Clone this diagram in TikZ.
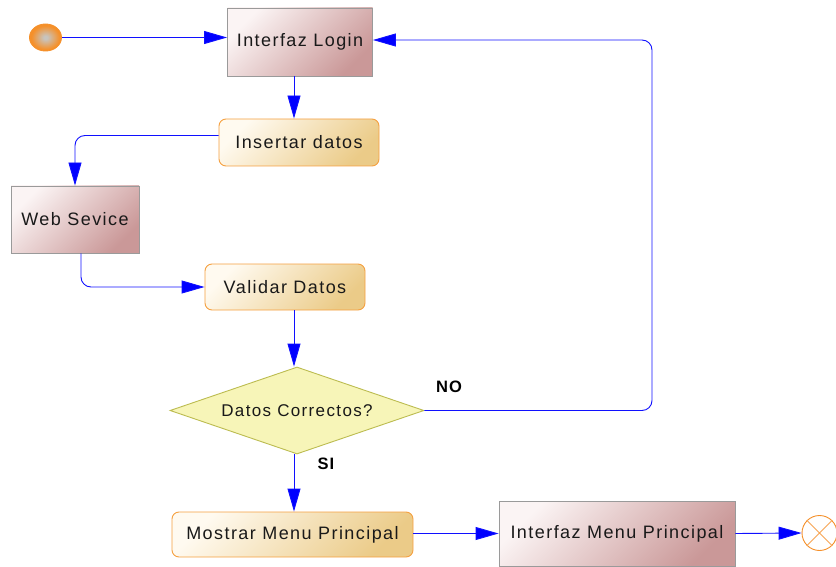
\documentclass[tikz,border=0pt]{standalone}
\usepackage{fontspec}
\setmainfont{Liberation Sans}
\newfontfamily\lblfont[LetterSpace=8]{Liberation Sans}
\newfontfamily\diafont[LetterSpace=8]{Liberation Sans}
\newfontfamily\guardfont[LetterSpace=6]{Liberation Sans}
\usetikzlibrary{arrows.meta,shapes.geometric}
\definecolor{pinkA}{HTML}{FBF4F4}
\definecolor{pinkB}{HTML}{CA9898}
\definecolor{pinkEdge}{HTML}{9A9A9A}
\definecolor{ochreA}{HTML}{FFFAF0}
\definecolor{ochreB}{HTML}{EBCB88}
\definecolor{ochreEdge}{HTML}{F5A040}
\definecolor{diaFill}{HTML}{F7F5B8}
\definecolor{diaEdge}{HTML}{BCBC50}
\definecolor{dotOrange}{HTML}{F5902A}
\definecolor{dotGrey}{HTML}{C8C4BE}
\definecolor{lineBlue}{HTML}{1010FF}
\pgfdeclareradialshading{startdot}{\pgfpoint{0bp}{0bp}}{%
  color(0bp)=(dotGrey); color(3bp)=(dotGrey); color(22bp)=(dotOrange); color(50bp)=(dotOrange)}
\tikzset{
  screen/.style={draw=pinkEdge, line width=0.9pt, top color=pinkA, bottom color=pinkB,
    shading angle=45, font=\lblfont\fontsize{18}{20}\selectfont, text=black!90, inner sep=0pt},
  action/.style={draw=ochreEdge, line width=0.9pt, rounded corners=7pt, top color=ochreA,
    bottom color=ochreB, shading angle=45, font=\lblfont\fontsize{18}{20}\selectfont,
    text=black!90, inner sep=0pt},
  decision/.style={diamond, draw=diaEdge, line width=0.9pt, fill=diaFill, inner sep=0pt,
    aspect=2.9, font=\diafont\fontsize{17}{19}\selectfont, text=black!90},
  conn/.style={draw=lineBlue, line width=0.9pt, rounded corners=10pt,
    -{Triangle[length=23pt,width=13pt,fill=blue]}},
  guard/.style={font=\guardfont\bfseries\fontsize{16.5}{18}\selectfont, text=black}
}
\begin{document}
\begin{tikzpicture}[x=1pt,y=-1pt]
\useasboundingbox (0,0) rectangle (836,567);

% start and end markers
\node[ellipse, draw=dotOrange, line width=0.9pt, shading=startdot,
  minimum width=32pt, minimum height=27pt, inner sep=0pt] (start) at (45.5,37.5) {};
\node[circle, draw=dotOrange, line width=0.9pt, fill=white, minimum size=35pt, inner sep=0pt]
  (fin) at (819.5,533) {};
\draw[dotOrange!80, line width=0.9pt] (fin.north east) -- (fin.south west)
  (fin.north west) -- (fin.south east);

% activities
\node[screen, minimum width=145pt, minimum height=68pt] (login) at (300,42) {Interfaz Login};
\node[action, minimum width=160pt, minimum height=47pt] (ins) at (299,142.5) {Insertar datos};
\node[screen, minimum width=128pt, minimum height=67pt] (web) at (75,219.5) {Web Sevice};
\node[action, minimum width=160pt, minimum height=46pt] (val) at (285,287) {Validar Datos};
\node[decision, minimum width=254pt, minimum height=87pt] (dia) at (297,410.5) {Datos Correctos?};
\node[action, minimum width=241pt, minimum height=45pt] (mos) at (292.5,534.5) {Mostrar Menu Principal};
\node[screen, minimum width=236pt, minimum height=65pt] (imp) at (617,533.5) {Interfaz Menu Principal};

% guard labels
\node[guard] (no) at (449,387) {NO};
\node[guard] (si) at (326,464) {SI};

% helper points for the vertical spine and the return loop
\coordinate (spine) at (294,0);
\coordinate (loopTop) at (652,40);

% connectors
\draw[conn] (start.east) -- (start.east -| login.west);
\draw[conn] (login.south -| spine) -- (ins.north -| spine);
\draw[conn] ([yshift=7pt]ins.west) -| (web.north);
\draw[conn] ([xshift=6pt]web.south) |- (val.west);
\draw[conn] (val.south -| spine) -- (dia.north -| spine);
\draw[conn] (dia.east) -| (loopTop) -- (loopTop -| login.east);
\draw[conn] (dia.south -| spine) -- (mos.north -| spine);
\draw[conn] (mos.east |- imp.west) -- (imp.west);
\draw[conn] (imp.east) -- (fin.west);
\end{tikzpicture}
\end{document}
